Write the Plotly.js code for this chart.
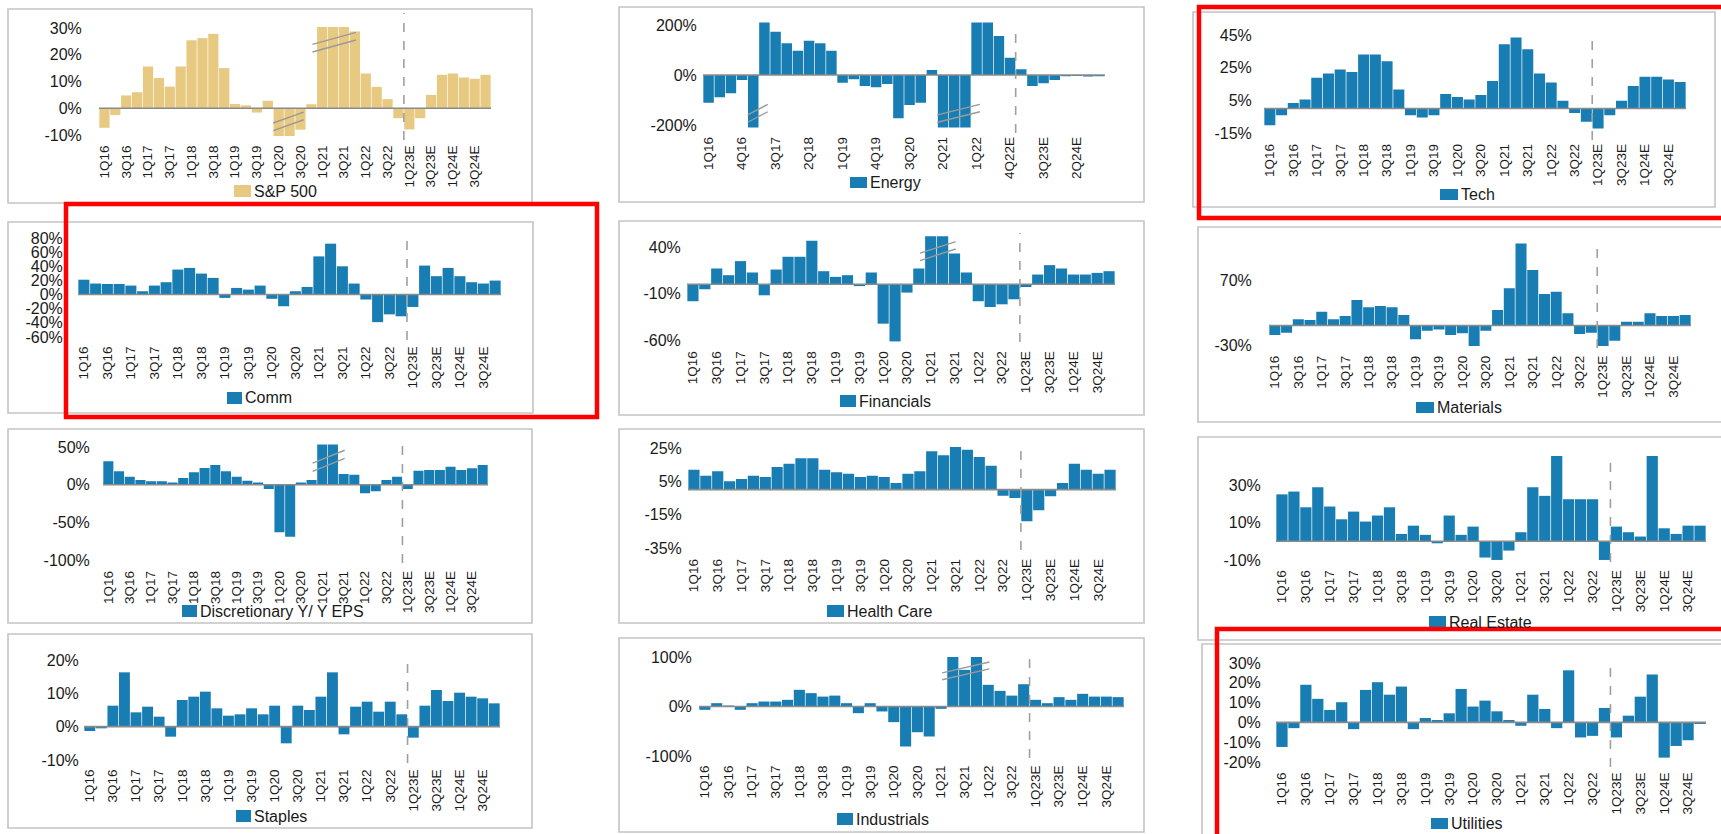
<!DOCTYPE html>
<html>
<head>
<meta charset="utf-8">
<script src="https://cdn.plot.ly/plotly-3.0.1.min.js"></script>
<style>
html,body{margin:0;padding:0;background:#ffffff;}
#chart{width:1721px;height:834px;}
</style>
</head>
<body>
<div id="chart"></div>
<script>
// ---------------- DATA ----------------
const quarters = ['1Q16','2Q16','3Q16','4Q16','1Q17','2Q17','3Q17','4Q17','1Q18','2Q18','3Q18','4Q18',
  '1Q19','2Q19','3Q19','4Q19','1Q20','2Q20','3Q20','4Q20','1Q21','2Q21','3Q21','4Q21',
  '1Q22','2Q22','3Q22','4Q22','1Q23E','2Q23E','3Q23E','4Q23E','1Q24E','2Q24E','3Q24E','4Q24E'];
const energyQuarters = ['1Q16','2Q16','3Q16','4Q16','1Q17','2Q17','3Q17','4Q17','1Q18','2Q18','3Q18','4Q18',
  '1Q19','2Q19','3Q19','4Q19','1Q20','2Q20','3Q20','4Q20','1Q21','2Q21','3Q21','4Q21',
  '1Q22','2Q22','3Q22','4Q22E','1Q23E','2Q23E','3Q23E','4Q23E','1Q24E','2Q24E','3Q24E','4Q24E'];
const tickLabels = quarters.filter((q, i) => i % 2 === 0);
const energyTickLabels = energyQuarters.filter((q, i) => i % 3 === 0);

const seriesNames = ['S&P 500','Energy','Tech','Comm','Financials','Materials',
  'Discretionary Y/ Y EPS','Health Care','Real Estate','Staples','Industrials','Utilities'];

const sp500 = [-7.3,-2.5,4.8,6,15.6,11.3,8.1,15.6,25.4,26.2,27.8,15,1.6,1.1,-1.6,2.8,-14,-31,-8,1.5,50,90,40,28.7,13,8,3.4,-3.7,-7.9,-3.7,5,12.5,13,11.5,11,12.5];
const energy = [-111,-89,-73,-20,-250,230,173,127,97,137,127,97,-31,-17,-44,-49,-36,-173,-120,-111,20,-260,-280,-300,240,220,156,69,23,-44,-33,-20,-5,-4,-6,-5];
const tech = [-10.2,-4.1,3.4,5.5,18.8,21.4,23.9,22.4,33,33,29,11.6,-4.1,-5.5,-4.1,8.8,7.1,5.5,8.2,16.9,39.4,43.5,36.3,21.4,15.9,4.7,-2.7,-8.2,-12.2,-4.1,4.7,13.7,19.4,19.4,17.8,16.3];
const comm = [21,15.6,15,15,12.7,4.7,12.7,17.5,35.4,37.7,29.7,23.6,-4.7,9.4,7,12.7,-6,-16.5,4.7,10.8,54,72,40,15.6,-7,-39,-28,-30.7,-17.5,41,26,37.7,26,17.5,15.6,19.8];
const financials = [-18.3,-5.4,16.9,9.7,24.8,12.6,-11.9,15.8,29.5,29.5,46.8,14,7.9,9.7,-2,12.6,-42.4,-61.5,-9,16.9,120,150,33,12.6,-18.3,-24.5,-21.6,-16.2,-3,10.4,20.5,16.9,10.4,10.4,12.2,14];
const materials = [-14.6,-11,9.5,8.5,21.3,9.5,14.6,39.2,28,30,28,16.2,-21.3,-8,-6,-14.6,-12,-31.5,-8,23.8,57.2,126,85.3,48.5,52,18.7,-13,-11,-31.5,-23.3,5.9,5.9,18.7,14.6,14.6,16.2];
const discretionary = [31,17.7,10.6,6.2,4.4,4.4,3,8.8,16.4,22,26,17.7,10.6,5.3,3,-5.8,-63,-69,3,6.2,150,300,14.2,13.3,-11.5,-8.8,6.2,10.6,-5.8,18.6,19.5,19.5,23.9,19.5,21.7,26];
const healthCare = [12,8.4,11,5,6.4,8.4,7.6,13.6,15.6,18.8,18.8,12,10.4,9.6,7.6,8.4,7.6,4,9.6,11,23,20.6,25.6,24,19.6,14.4,-3.6,-5,-19,-12.4,-4,4,15.6,12,9.6,12];
const realEstate = [25,26.5,18.1,28.8,18.5,11.7,15.8,10.5,13.7,18.1,3.9,8.3,3.4,-1.1,13.7,3.4,7.8,-8.7,-10,-5,4.8,28.8,24.2,45.5,22.4,22.4,22.4,-10,7.8,4.8,2.5,45.5,6.9,3.9,8.3,8.3];
const staples = [-1.3,-0.5,6.3,16.3,4.3,6,3,-3,8,9,10.5,5.5,3.3,3.7,5.5,3.7,6.3,-5,6.3,5,9,16.3,-2.3,6,7.5,4.5,7.5,3.7,-3.3,6.3,11,7.7,10.2,9,8.5,7];
const industrials = [-6.7,6.7,2,-6.7,6.7,10,10,13.5,33.7,27,20,22,6.7,-13.5,6.7,-10,-31.6,-80.8,-52,-60.6,-4.7,150,74,110,43.8,31.6,22,45,13.5,6.7,18.9,13.5,25.6,20,20,18.9];
const utilities = [-12.4,-2.9,19,11.9,6.3,10.2,-3.4,16.4,20.3,14,18.1,-3.4,2.2,1.2,4.6,16.9,8,11,5.6,1.2,-1.7,14,6.8,-2.9,26.3,-7.6,-6.8,7.3,-7.6,3.4,13,24.2,-17.8,-11.9,-9,-0.8];

const yTickValues = {
  sp500: [-10,0,10,20,30], energy: [-200,0,200], tech: [-15,5,25,45], comm: [-60,-40,-20,0,20,40,60,80],
  financials: [-60,-10,40], materials: [-30,70], discretionary: [-100,-50,0,50], healthCare: [-35,-15,5,25],
  realEstate: [-10,10,30], staples: [-10,0,10,20], industrials: [-100,0,100], utilities: [-20,-10,0,10,20,30]
};
// groups of bars drawn with break marks: [first index, last index, side]
const breakGroups = {
  sp500: [[16,17,'bottom'],[20,22,'top']], energy: [[4,4,'bottom'],[21,23,'bottom']],
  financials: [[20,21,'top']], discretionary: [[20,21,'top']], industrials: [[21,23,'top']]
};
const estimateStart = 27.5; // boundary between actuals and estimates (category position)

// ---------------- LAYOUT / STYLE ----------------
const W = 1721, H = 834;
const BLUE = '#187db2', TAN = '#e8c982';
const FONT = 'Liberation Sans, Arial, sans-serif';

// plot: [xLeft, xRight, yTop, yBottom] in pixels; box: panel border; legend: [sqX, sqY, sqW, sqH]
const panels = [
  {key:'sp500', data:sp500, cats:quarters, ticks:tickLabels, color:TAN, range:[-10.4,30.4], plot:[99,491,26.9,136.1], gap:16, box:[8,9,532,203], dash:[13,140], legend:[234,185,17,12]},
  {key:'energy', data:energy, cats:energyQuarters, ticks:energyTickLabels, color:BLUE, range:[-210,210], plot:[703,1105,22.5,127.5], gap:5, box:[619,7,1144,202], dash:[27,133], legend:[850,177,17,11]},
  {key:'tech', data:tech, cats:quarters, ticks:tickLabels, color:BLUE, range:[-16,46], plot:[1264,1686,33.4,134.6], gap:11, box:[1193,12,1715,207], dash:[33,140], legend:[1440,189,18,11]},
  {key:'comm', data:comm, cats:quarters, ticks:tickLabels, color:BLUE, range:[-60,80], plot:[78,501,238,337], gap:14, box:[8,222,533,413], dash:[238,340], legend:[227,392,15,12]},
  {key:'financials', data:financials, cats:quarters, ticks:tickLabels, color:BLUE, range:[-62,51.5], plot:[687,1115,236.3,341.9], gap:5, box:[619,221,1144,415], dash:[233,342], legend:[840,395,16,12]},
  {key:'materials', data:materials, cats:quarters, ticks:tickLabels, color:BLUE, range:[-32,128], plot:[1269,1691,242.3,346.3], gap:16, box:[1198,227,1730,422], dash:[247,348], legend:[1416,402,18,11]},
  {key:'discretionary', data:discretionary, cats:quarters, ticks:tickLabels, color:BLUE, range:[-102,53.5], plot:[103,488,444.4,561.5], gap:12, box:[8,429,532,623], dash:[442,563], legend:[182,605,15,12]},
  {key:'healthCare', data:healthCare, cats:quarters, ticks:tickLabels, color:BLUE, range:[-36,26], plot:[688,1116,446.3,549.7], gap:5, box:[619,429,1144,623], dash:[447,550], legend:[827,605,17,12]},
  {key:'realEstate', data:realEstate, cats:quarters, ticks:tickLabels, color:BLUE, range:[-10.5,46], plot:[1276,1706,455,560.9], gap:14, box:[1198,437,1730,640], dash:[462,562], legend:[1429,616,17,12]},
  {key:'staples', data:staples, cats:quarters, ticks:tickLabels, color:BLUE, range:[-10,20], plot:[84,500,660,760], gap:4, box:[8,634,532,828], dash:[657,763], legend:[236,810,15,12]},
  {key:'industrials', data:industrials, cats:quarters, ticks:tickLabels, color:BLUE, range:[-100,100], plot:[699,1124,657,756], gap:6, box:[619,638,1144,832], dash:[653,758], legend:[837,813,16,12]},
  {key:'utilities', data:utilities, cats:quarters, ticks:tickLabels, color:BLUE, range:[-20.5,30.5], plot:[1276,1706,662,763], gap:14, box:[1202,644,1730,850], dash:[660,767], legend:[1431,818,17,11]}
];
const redBoxes = [[1199,7,1730,218],[66,204,597,417],[1217,629,1730,850]];

const px = x => x / W;
const py = y => 1 - y / H;

const traces = [];
const shapes = [];
const annotations = [];
const layout = {
  width: W, height: H, autosize: false,
  margin: {l:0, r:0, t:0, b:0, pad:0},
  paper_bgcolor: '#ffffff', plot_bgcolor: 'rgba(0,0,0,0)',
  showlegend: false, bargap: 0.06,
  font: {family: FONT, color: '#222'}
};

panels.forEach((p, idx) => {
  const k = idx + 1;
  const xs = k === 1 ? '' : String(k);
  const xName = 'x' + xs, yName = 'y' + xs;
  const [xl, xr, yt, yb] = p.plot;

  // panel border
  shapes.push({type:'rect', xref:'paper', yref:'paper', x0:px(p.box[0]), x1:px(p.box[2]), y0:py(p.box[3]), y1:py(p.box[1]),
    line:{color:'#c4c4c4', width:1.6}, fillcolor:'rgba(0,0,0,0)', layer:'below'});

  traces.push({type:'bar', x:p.cats, y:p.data, xaxis:xName, yaxis:yName, name:seriesNames[idx],
    marker:{color:p.color, line:{width:0}}, hoverinfo:'skip'});

  const yTicks = yTickValues[p.key];
  layout['xaxis' + xs] = {
    domain:[px(xl), px(xr)], anchor:yName, type:'category', categoryorder:'array', categoryarray:p.cats,
    range:[-0.5, p.cats.length - 0.5], tickmode:'array', tickvals:p.ticks, ticktext:p.ticks, tickangle:-90,
    tickfont:{family:FONT, size:13.5, color:'#1a1a1a'}, showgrid:false, zeroline:false, showline:false,
    ticks:'outside', ticklen:3, tickcolor:'rgba(0,0,0,0)', fixedrange:true
  };
  layout['yaxis' + xs] = {
    domain:[py(yb), py(yt)], anchor:xName, range:p.range, tickmode:'array', tickvals:yTicks,
    ticktext:yTicks.map(v => String(v) + '%'), tickfont:{family:FONT, size:16, color:'#1a1a1a'},
    showgrid:false, zeroline:false, showline:false, ticks:'outside', ticklen:Math.max(0, p.gap - 3),
    tickcolor:'rgba(0,0,0,0)', fixedrange:true
  };

  // zero line over bars
  shapes.push({type:'line', xref:xName + ' domain', yref:yName, x0:0, x1:1, y0:0, y1:0,
    line:{color:'#8a8a8a', width:1.6}, layer:'above'});
  // estimate divider
  shapes.push({type:'line', xref:xName, yref:'paper', x0:estimateStart, x1:estimateStart, y0:py(p.dash[1]), y1:py(p.dash[0]),
    line:{color:'#a0a0a0', width:1.6, dash:'dash'}, layer:'above'});

  // break marks
  (breakGroups[p.key] || []).forEach(g => {
    const [a, b, side] = g;
    const x0 = side === 'top' ? a - 0.9 : a - 0.5;
    const x1 = side === 'top' ? b + 1.1 : b + 1.3;
    const pairs = side === 'top' ? [[0.84,0.95],[0.77,0.88]] : [[0.12,0.22],[0.05,0.15]];
    pairs.forEach(pr => shapes.push({type:'line', xref:xName, yref:yName + ' domain', x0:x0, x1:x1, y0:pr[0], y1:pr[1],
      line:{color:'#9a9a9a', width:1.4}, layer:'above'}));
  });

  // legend
  const [lx, ly, lw, lh] = p.legend;
  shapes.push({type:'rect', xref:'paper', yref:'paper', x0:px(lx), x1:px(lx + lw), y0:py(ly + lh), y1:py(ly),
    line:{width:0}, fillcolor:p.color, layer:'above'});
  annotations.push({xref:'paper', yref:'paper', x:px(lx + lw + 1), y:py(ly + lh / 2), xanchor:'left', yanchor:'middle',
    text:seriesNames[idx], showarrow:false, font:{family:FONT, size:16, color:'#1a1a1a'}});
});

redBoxes.forEach(r => shapes.push({type:'rect', xref:'paper', yref:'paper', x0:px(r[0]), x1:px(r[2]), y0:py(r[3]), y1:py(r[1]),
  line:{color:'#ff0000', width:4.5}, fillcolor:'rgba(0,0,0,0)', layer:'above'}));

layout.shapes = shapes;
layout.annotations = annotations;

Plotly.newPlot('chart', traces, layout, {staticPlot:true, displayModeBar:false});
</script>
</body>
</html>
